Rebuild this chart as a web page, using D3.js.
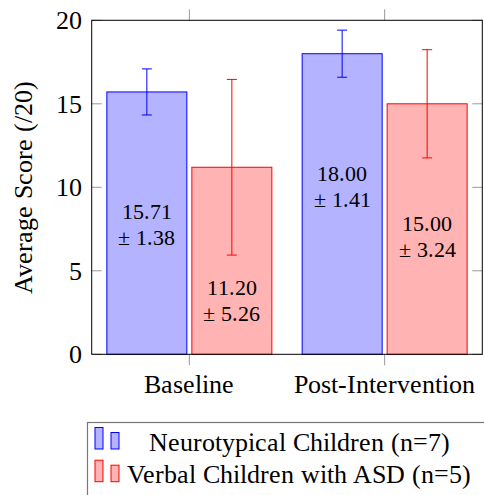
<!DOCTYPE html>
<html>
<head>
<meta charset="utf-8">
<script src="https://cdn.jsdelivr.net/npm/d3@7"></script>
<style>
  @font-face {
    font-family: "ChartSerif";
    src: local("Liberation Serif"), local("LiberationSerif"), local("LiberationSerif-Regular"),
         local("DejaVu Serif"), local("DejaVuSerif");
  }
  body { margin: 0; background: #fff; }
  svg text { font-family: "ChartSerif", "Liberation Serif", "DejaVu Serif", serif; }
</style>
</head>
<body>
<div id="chart"></div>
<script>
const categories = ["Baseline", "Post-Intervention"];
const seriesNames = ["Neurotypical Children (n=7)", "Verbal Children with ASD (n=5)"];
const ntMeans = [15.71, 18.00];
const ntSds = [1.38, 1.41];
const asdMeans = [11.20, 15.00];
const asdSds = [5.26, 3.24];
const yTicks = [0, 5, 10, 15, 20];

const svgWidth = 484, svgHeight = 495,
    margin = { top: 20.3, right: 1.7, bottom: 140.7, left: 91.7 },
    width = svgWidth - margin.left - margin.right,
    height = svgHeight - margin.top - margin.bottom;

const colors = [
    { fill: "#b3b3ff", stroke: "#0000ff" },
    { fill: "#ffb3b3", stroke: "#ff0000" }
];

let svgRoot = d3.select("#chart").append("svg")
    .attr("width", svgWidth)
    .attr("height", svgHeight);
let svg = svgRoot.append("g")
    .attr("transform", "translate(" + margin.left + "," + margin.top + ")");

// build rows from the arrays
let rows = [];
categories.forEach((c, i) => {
    rows.push({ cat: i, s: 0, mean: ntMeans[i], sd: ntSds[i] });
    rows.push({ cat: i, s: 1, mean: asdMeans[i], sd: asdSds[i] });
});

let xScale = d3.scaleLinear().domain([-0.5, categories.length - 0.5]).range([0, width]);
let xSub = d3.scaleBand().domain([0, 1]).range([-82.5, 82.5]).paddingInner(5 / 85);
let yScale = d3.scaleLinear().domain([0, 20]).range([height, 0]);
let cx = d => xScale(d.cat) + xSub(d.s) + xSub.bandwidth() / 2;

// bars
svg.selectAll("rect.bar")
    .data(rows)
    .join("rect")
    .attr("class", "bar")
    .attr("x", d => xScale(d.cat) + xSub(d.s))
    .attr("width", xSub.bandwidth())
    .attr("y", d => yScale(d.mean))
    .attr("height", d => yScale(0) - yScale(d.mean))
    .attr("fill", d => colors[d.s].fill)
    .attr("stroke", d => colors[d.s].stroke)
    .attr("stroke-width", 1);

// error bars
let err = svg.selectAll("g.err")
    .data(rows)
    .join("g")
    .attr("class", "err")
    .attr("stroke", d => colors[d.s].stroke)
    .attr("stroke-width", 1);
err.append("line")
    .attr("x1", cx)
    .attr("x2", cx)
    .attr("y1", d => yScale(d.mean - d.sd))
    .attr("y2", d => yScale(d.mean + d.sd));
[-1, 1].forEach(k => {
    err.append("line")
        .attr("x1", d => cx(d) - 5)
        .attr("x2", d => cx(d) + 5)
        .attr("y1", d => yScale(d.mean + k * d.sd))
        .attr("y2", d => yScale(d.mean + k * d.sd));
});

// value labels inside the bars
let lab = svg.selectAll("text.val")
    .data(rows)
    .join("text")
    .attr("class", "val")
    .attr("text-anchor", "middle")
    .attr("font-size", 22)
    .attr("x", cx)
    .attr("y", d => yScale(d.mean) + 127.5);
lab.append("tspan").text(d => d.mean.toFixed(2));
lab.append("tspan")
    .attr("x", cx)
    .attr("dy", 26)
    .text(d => "\u00b1 " + d.sd.toFixed(2));

// ticks
const tickColor = "#999";
yTicks.forEach(t => {
    svg.append("line").attr("x1", 0).attr("x2", 10)
        .attr("y1", yScale(t)).attr("y2", yScale(t))
        .attr("stroke", tickColor);
    svg.append("line").attr("x1", width - 10).attr("x2", width)
        .attr("y1", yScale(t)).attr("y2", yScale(t))
        .attr("stroke", tickColor);
    svg.append("text")
        .attr("x", -10)
        .attr("y", yScale(t))
        .attr("dy", "0.34em")
        .attr("text-anchor", "end")
        .attr("font-size", 26)
        .text(t);
});
categories.forEach((c, i) => {
    svg.append("line").attr("x1", xScale(i)).attr("x2", xScale(i))
        .attr("y1", -11).attr("y2", 0).attr("stroke", tickColor);
    svg.append("line").attr("x1", xScale(i)).attr("x2", xScale(i))
        .attr("y1", height).attr("y2", height + 11).attr("stroke", tickColor);
    svg.append("text")
        .attr("x", xScale(i))
        .attr("y", height + 39)
        .attr("text-anchor", "middle")
        .attr("font-size", 26)
        .text(c);
});

// axis box
svg.append("rect")
    .attr("width", width)
    .attr("height", height)
    .attr("fill", "none")
    .attr("stroke", "#000")
    .attr("stroke-width", 1);

svg.append("text")
    .attr("transform", `translate(${32 - margin.left}, ${height / 2}) rotate(-90)`)
    .attr("text-anchor", "middle")
    .attr("font-size", 26)
    .text("Average Score (/20)");

// legend
let legend = svgRoot.append("g").attr("transform", "translate(87.5, 422.5)");
legend.append("rect")
    .attr("width", 420).attr("height", 100)
    .attr("fill", "#fff")
    .attr("stroke", "#777")
    .attr("stroke-width", 1.2);
seriesNames.forEach((name, i) => {
    let row = legend.append("g").attr("transform", `translate(0, ${i * 32.7})`);
    row.append("rect").attr("x", 7.5).attr("y", 5).attr("width", 8).attr("height", 21.5)
        .attr("fill", colors[i].fill).attr("stroke", colors[i].stroke);
    row.append("rect").attr("x", 23.5).attr("y", 10).attr("width", 8).attr("height", 16.5)
        .attr("fill", colors[i].fill).attr("stroke", colors[i].stroke);
    row.append("text")
        .attr("x", 211.5)
        .attr("y", 28.2)
        .attr("text-anchor", "middle")
        .attr("font-size", 26)
        .text(name);
});
</script>
</body>
</html>
